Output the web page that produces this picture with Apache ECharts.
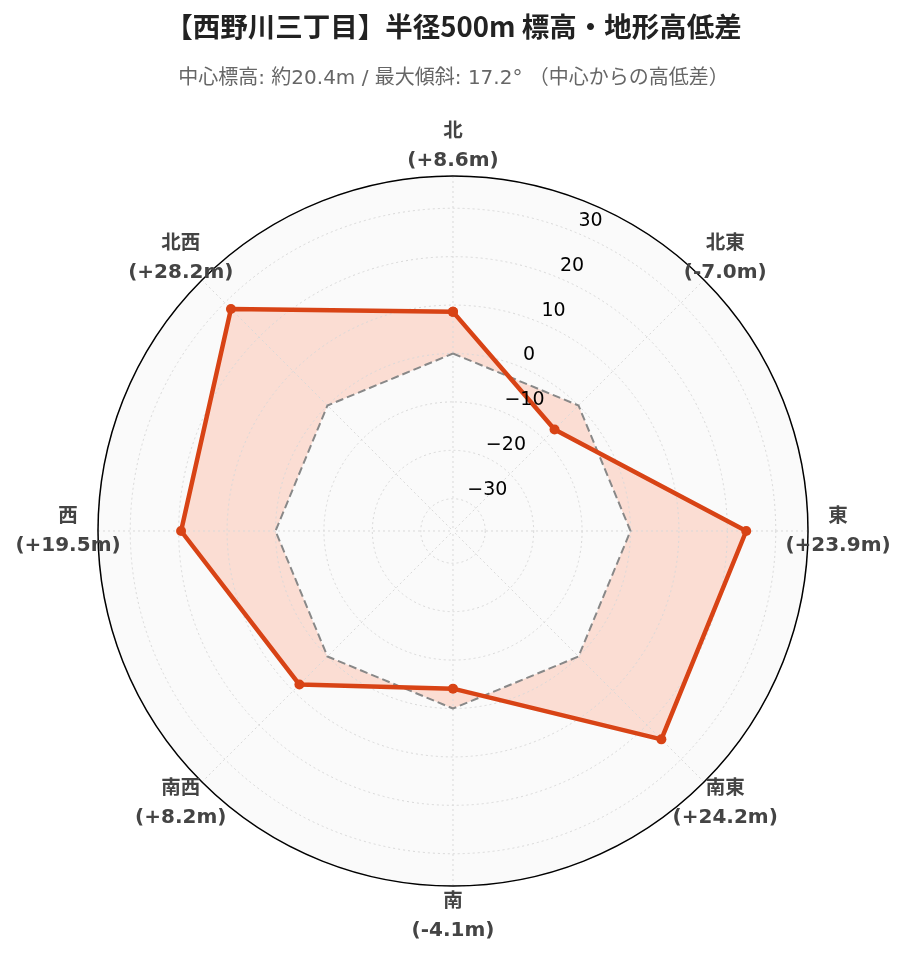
<!DOCTYPE html>
<html>
<head>
<meta charset="utf-8">
<script src="https://cdn.jsdelivr.net/npm/echarts@6/dist/echarts.min.js"></script>
<style>
html,body{margin:0;padding:0;background:#fff;}
#chart{width:907px;height:962px;}
</style>
</head>
<body>
<div id="chart"></div>
<script>
const titleText = '【西野川三丁目】半径500m 標高・地形高低差';
const subtitleText = '中心標高: 約20.4m / 最大傾斜: 17.2° （中心からの高低差）';
const directions = ['北', '北東', '東', '南東', '南', '南西', '西', '北西'];
const elevationDiff = [8.6, -7.0, 23.9, 24.2, -4.1, 8.2, 19.5, 28.2];
const referenceLevel = [0, 0, 0, 0, 0, 0, 0, 0];
const radiusTicks = [-30, -20, -10, 0, 10, 20, 30];
const radiusRange = [-36.66, 36.66];

const center = [453, 531];
const radius = 355;
const labelGapPx = 30;

const step = 360 / directions.length;
function toPoints(vals) {
  const pts = vals.map((v, i) => [v, i * step]);
  pts.push([vals[0], 360]);
  return pts;
}
function fmtDiff(v) {
  return (v > 0 ? '+' : '') + v.toFixed(1);
}
function tickLabel(v) {
  const r = Math.round(v);
  if (Math.abs(v - r) > 1e-6 || radiusTicks.indexOf(r) < 0) return '';
  return r < 0 ? '\u2212' + Math.abs(r) : String(r);
}
const labelR = radiusRange[1] + labelGapPx * (radiusRange[1] - radiusRange[0]) / radius;
const dirLabelData = directions.map((d, i) => ({
  value: [labelR, i * step],
  name: d,
  diff: elevationDiff[i]
}));

const chart = echarts.init(document.getElementById('chart'), null, {renderer: 'canvas'});
const gridLine = {show: true, lineStyle: {color: '#d9d9d9', width: 1, type: [2, 3]}};
const labelFont = 'DejaVu Sans, Noto Sans CJK JP';

chart.setOption({
  backgroundColor: '#ffffff',
  animation: false,
  title: [
    {text: titleText, left: 'center', top: 8,
     textStyle: {fontFamily: 'Noto Sans CJK JP', fontWeight: 'bold', fontSize: 27.5, color: '#222'}},
    {text: subtitleText, left: 'center', top: 64,
     textStyle: {fontFamily: labelFont, fontWeight: 'normal', fontSize: 20, color: '#666'}}
  ],
  polar: [
    {center: center, radius: radius},
    {center: center, radius: radius}
  ],
  angleAxis: [
    {polarIndex: 0, type: 'value', min: 0, max: 360, interval: 45, startAngle: 90, clockwise: true, z: 2,
     axisLine: {show: true, lineStyle: {color: '#000', width: 1.5}},
     axisTick: {show: false},
     axisLabel: {show: false},
     splitLine: gridLine,
     splitArea: {show: false}},
    {polarIndex: 1, type: 'value', min: 0, max: 360, interval: 45, startAngle: 67.5, clockwise: true, z: 0,
     axisLine: {show: false}, axisTick: {show: false}, axisLabel: {show: false},
     splitLine: {show: false}, splitArea: {show: true, areaStyle: {color: ['#fafafa']}}}
  ],
  radiusAxis: [
    {polarIndex: 0, type: 'value', min: radiusRange[0], max: radiusRange[1], minInterval: 10, maxInterval: 10, z: 2,
     axisLine: {show: false}, axisTick: {show: false}, axisLabel: {show: false},
     splitLine: gridLine},
    {polarIndex: 1, type: 'value', min: radiusRange[0], max: radiusRange[1], minInterval: 10, maxInterval: 10, z: 6,
     axisLine: {show: false}, axisTick: {show: false}, splitLine: {show: false},
     axisLabel: {show: true, formatter: tickLabel, margin: 0, align: 'left', verticalAlign: 'bottom',
       padding: [0, 0, 2, 2], fontFamily: 'DejaVu Sans', fontSize: 19, color: '#000'}}
  ],
  series: [
    {type: 'line', name: '高低差(面)', coordinateSystem: 'polar', polarIndex: 0,
     data: toPoints(elevationDiff), symbol: 'none',
     lineStyle: {width: 0, opacity: 0},
     areaStyle: {color: 'rgba(255,87,34,0.18)', opacity: 1}, z: 1, silent: true},
    {type: 'line', name: '基準', coordinateSystem: 'polar', polarIndex: 0,
     data: toPoints(referenceLevel), symbol: 'none',
     lineStyle: {color: '#888', width: 2, type: [8, 4]}, z: 3},
    {type: 'line', name: '高低差', coordinateSystem: 'polar', polarIndex: 0,
     data: toPoints(elevationDiff), symbol: 'circle', symbolSize: 10, showAllSymbol: true,
     itemStyle: {color: '#d84315'},
     lineStyle: {color: '#d84315', width: 4.5}, z: 4},
    {type: 'scatter', name: '方位', coordinateSystem: 'polar', polarIndex: 0, clip: false,
     data: dirLabelData, symbolSize: 0, itemStyle: {color: '#444', opacity: 1}, z: 5, silent: true,
     label: {show: true, position: 'inside', color: '#444', opacity: 1, textBorderWidth: 0,
       formatter: p => '{d|' + p.data.name + '}\n{v|(' + fmtDiff(p.data.diff) + 'm)}',
       rich: {
         d: {fontFamily: labelFont, fontWeight: 'bold', fontSize: 19.5, color: '#444', lineHeight: 29, align: 'center', textBorderWidth: 0},
         v: {fontFamily: labelFont, fontWeight: 'bold', fontSize: 20, color: '#444', lineHeight: 29, align: 'center', textBorderWidth: 0}
       }}}
  ]
});
</script>
</body>
</html>
